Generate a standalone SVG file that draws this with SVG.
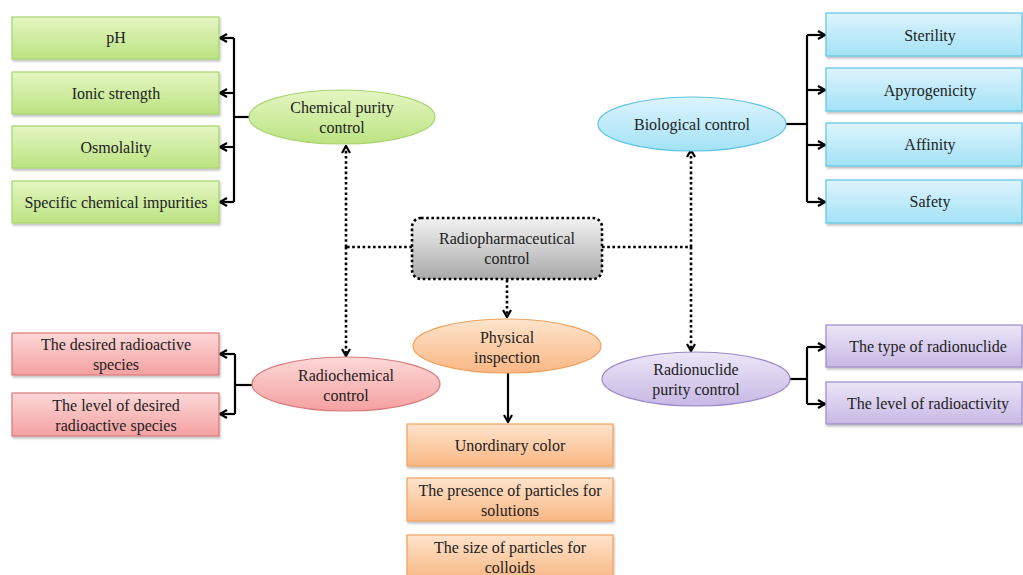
<svg xmlns="http://www.w3.org/2000/svg" width="1023" height="575" viewBox="0 0 1023 575">
<style>
text{font-family:"Liberation Serif","Times New Roman",serif;font-size:16px;fill:#222;text-anchor:middle}
.solid{fill:none;stroke:#000;stroke-width:2.2}
.dot{fill:none;stroke:#000;stroke-width:2.6;stroke-dasharray:2.6 2.6}
.g{fill:url(#gG);stroke:#a9d46e;stroke-width:1.2}
.b{fill:url(#gB);stroke:#5fc3e3;stroke-width:1.2}
.r{fill:url(#gR);stroke:#d97a7a;stroke-width:1.2}
.o{fill:url(#gO);stroke:#f0a25f;stroke-width:1.2}
.p{fill:url(#gP);stroke:#9b88c8;stroke-width:1.2}
.box{filter:url(#sh)}
</style>
<defs>
<filter id="sh" x="-5%" y="-10%" width="110%" height="130%"><feDropShadow dx="1" dy="2" stdDeviation="1" flood-color="#000" flood-opacity="0.25"/></filter>
<linearGradient id="gG" x1="0" y1="0" x2="0" y2="1"><stop offset="0" stop-color="#e4f6c2"/><stop offset="1" stop-color="#bce382"/></linearGradient>
<linearGradient id="gB" x1="0" y1="0" x2="0" y2="1"><stop offset="0" stop-color="#ddf4fd"/><stop offset="1" stop-color="#a3e2f6"/></linearGradient>
<linearGradient id="gR" x1="0" y1="0" x2="0" y2="1"><stop offset="0" stop-color="#fdd8d8"/><stop offset="1" stop-color="#f4a0a0"/></linearGradient>
<linearGradient id="gO" x1="0" y1="0" x2="0" y2="1"><stop offset="0" stop-color="#fee4cc"/><stop offset="1" stop-color="#f9b784"/></linearGradient>
<linearGradient id="gP" x1="0" y1="0" x2="0" y2="1"><stop offset="0" stop-color="#ece6f7"/><stop offset="1" stop-color="#c7b8e5"/></linearGradient>
<linearGradient id="gC" x1="0" y1="0" x2="0" y2="1"><stop offset="0" stop-color="#f2f2f2"/><stop offset="1" stop-color="#a9a9a9"/></linearGradient>
<marker id="ar" viewBox="0 0 10 10" refX="9" refY="5" markerWidth="10" markerHeight="10" markerUnits="userSpaceOnUse" orient="auto"><path d="M2,1 L9,5 L2,9" fill="none" stroke="#000" stroke-width="2.2"/></marker>
</defs>

<g id="connectors">
<path class="solid" d="M249,117 H234"/>
<path class="solid" d="M234,38 V202"/>
<path class="solid" d="M234,38 H220" marker-end="url(#ar)"/>
<path class="solid" d="M234,93 H220" marker-end="url(#ar)"/>
<path class="solid" d="M234,147 H220" marker-end="url(#ar)"/>
<path class="solid" d="M234,202 H220" marker-end="url(#ar)"/>
<path class="solid" d="M786,124 H807"/>
<path class="solid" d="M807,35 V202"/>
<path class="solid" d="M807,35 H825" marker-end="url(#ar)"/>
<path class="solid" d="M807,90 H825" marker-end="url(#ar)"/>
<path class="solid" d="M807,145 H825" marker-end="url(#ar)"/>
<path class="solid" d="M807,202 H825" marker-end="url(#ar)"/>
<path class="solid" d="M252,385 H235"/>
<path class="solid" d="M235,354 V414"/>
<path class="solid" d="M235,354 H220" marker-end="url(#ar)"/>
<path class="solid" d="M235,414 H220" marker-end="url(#ar)"/>
<path class="solid" d="M790,379 H807"/>
<path class="solid" d="M807,347 V404"/>
<path class="solid" d="M807,347 H825" marker-end="url(#ar)"/>
<path class="solid" d="M807,404 H825" marker-end="url(#ar)"/>
<path class="solid" d="M508,373 V422" marker-end="url(#ar)"/>
<path class="dot" d="M412,247 H346"/>
<path class="dot" d="M346,247 V146" marker-end="url(#ar)"/>
<path class="dot" d="M346,247 V356" marker-end="url(#ar)"/>
<path class="dot" d="M602,247 H691"/>
<path class="dot" d="M691,247 V150" marker-end="url(#ar)"/>
<path class="dot" d="M691,247 V351" marker-end="url(#ar)"/>
<path class="dot" d="M507,280 V317" marker-end="url(#ar)"/>
</g>

<g id="center">
<rect x="412" y="218" width="190" height="61" rx="9" fill="url(#gC)" stroke="#000" stroke-width="2.6" stroke-dasharray="2.6 2.6"/>
<text x="507" y="244">Radiopharmaceutical</text>
<text x="507" y="264">control</text>
</g>

<g id="chemical">
<ellipse cx="342" cy="117" rx="93" ry="27" class="g"/>
<text x="342" y="113">Chemical purity</text>
<text x="342" y="133">control</text>
</g>
<g id="ph"><rect class="g box" x="12" y="17" width="207" height="42"/><text x="116" y="43">pH</text></g>
<g id="ionic"><rect class="g box" x="12" y="72" width="207" height="42"/><text x="116" y="99">Ionic strength</text></g>
<g id="osmolality"><rect class="g box" x="12" y="126" width="207" height="42"/><text x="116" y="153">Osmolality</text></g>
<g id="specific"><rect class="g box" x="12" y="181" width="207" height="42"/><text x="116" y="208">Specific chemical impurities</text></g>

<g id="biological">
<ellipse cx="692" cy="124" rx="94" ry="27" class="b"/>
<text x="692" y="130">Biological control</text>
</g>
<g id="sterility"><rect class="b box" x="826" y="13" width="196" height="43"/><text x="930" y="41">Sterility</text></g>
<g id="apyrogenicity"><rect class="b box" x="826" y="68" width="196" height="43"/><text x="930" y="96">Apyrogenicity</text></g>
<g id="affinity"><rect class="b box" x="826" y="123" width="196" height="43"/><text x="930" y="150">Affinity</text></g>
<g id="safety"><rect class="b box" x="826" y="180" width="196" height="43"/><text x="930" y="207">Safety</text></g>

<g id="radiochemical">
<ellipse cx="346" cy="384" rx="94" ry="27" class="r"/>
<text x="346" y="381">Radiochemical</text>
<text x="346" y="401">control</text>
</g>
<g id="desired"><rect class="r box" x="12" y="333" width="207" height="42"/><text x="116" y="350">The desired radioactive</text><text x="116" y="370">species</text></g>
<g id="level-desired"><rect class="r box" x="12" y="393" width="207" height="43"/><text x="116" y="411">The level of desired</text><text x="116" y="431">radioactive species</text></g>

<g id="physical">
<ellipse cx="507" cy="346" rx="94" ry="27" class="o"/>
<text x="507" y="343">Physical</text>
<text x="507" y="363">inspection</text>
</g>
<g id="unordinary"><rect class="o box" x="407" y="424" width="206" height="42"/><text x="510" y="451">Unordinary color</text></g>
<g id="presence"><rect class="o box" x="407" y="478" width="206" height="43"/><text x="510" y="496">The presence of particles for</text><text x="510" y="516">solutions</text></g>
<g id="size"><rect class="o box" x="407" y="535" width="206" height="45"/><text x="510" y="553">The size of particles for</text><text x="510" y="573">colloids</text></g>

<g id="radionuclide">
<ellipse cx="696" cy="379" rx="94" ry="27" class="p"/>
<text x="696" y="375">Radionuclide</text>
<text x="696" y="395">purity control</text>
</g>
<g id="type"><rect class="p box" x="826" y="325" width="196" height="42"/><text x="928" y="352">The type of radionuclide</text></g>
<g id="level-activity"><rect class="p box" x="826" y="382" width="196" height="42"/><text x="928" y="409">The level of radioactivity</text></g>
</svg>
